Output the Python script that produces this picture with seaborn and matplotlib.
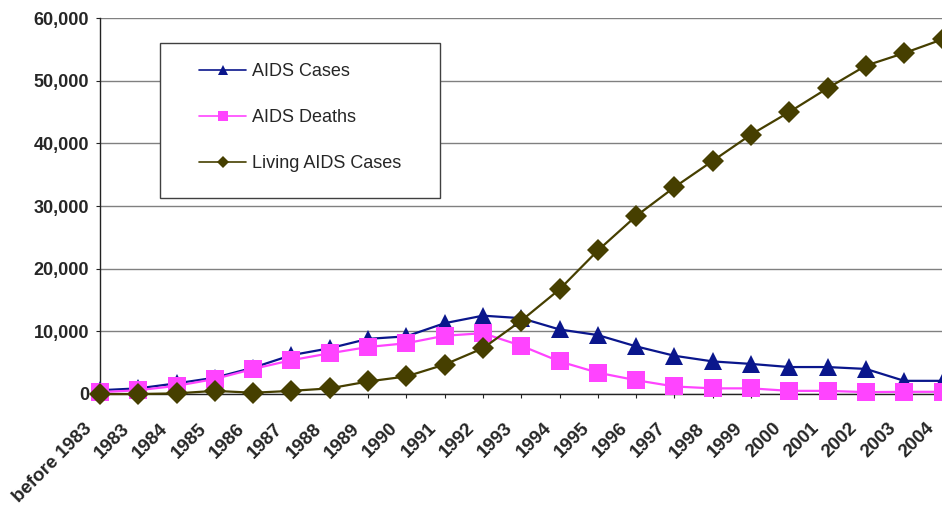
import numpy as np
import pandas as pd
import matplotlib
matplotlib.use("Agg")
import matplotlib.pyplot as plt
from matplotlib.patches import Rectangle
from matplotlib.transforms import ScaledTranslation
from matplotlib.ticker import FuncFormatter
import seaborn as sns

categories = ["before 1983", "1983", "1984", "1985", "1986", "1987", "1988", "1989",
              "1990", "1991", "1992", "1993", "1994", "1995", "1996", "1997", "1998",
              "1999", "2000", "2001", "2002", "2003", "2004"]
aids_cases = [600, 900, 1700, 2600, 4200, 6200, 7300, 8800, 9200, 11300, 12500, 12100,
              10300, 9400, 7600, 6100, 5200, 4800, 4300, 4300, 4000, 2100, 2100]
aids_deaths = [300, 600, 1300, 2400, 4000, 5400, 6500, 7500, 8100, 9300, 9700, 7700,
               5200, 3400, 2200, 1200, 900, 900, 500, 500, 300, 350, 350]
living_cases = [0, 0, 100, 500, 200, 500, 900, 2000, 2800, 4700, 7300, 11700,
                16700, 22900, 28400, 33000, 37200, 41400, 45000, 48800, 52400, 54400, 56600]
yticks = [0, 10000, 20000, 30000, 40000, 50000, 60000]

sns.set_theme(style="white")
plt.rcParams["font.family"] = ["Liberation Sans", "DejaVu Sans"]

W, H = 942, 515
fig = plt.figure(figsize=(W / 100, H / 100), dpi=100)
ax = fig.add_axes([100 / W, (H - 394) / H, 842.5 / W, 376 / H])

pos = np.arange(len(categories))
df = pd.DataFrame({"pos": pos, "cases": aids_cases, "deaths": aids_deaths, "living": living_cases})

series = [
    ("cases", "AIDS Cases", "#0a168c", "^", 13),
    ("deaths", "AIDS Deaths", "#ff44ff", "s", 12.5),
    ("living", "Living AIDS Cases", "#463f00", "D", 11),
]
for col, lab, colr, mk, ms in series:
    sns.lineplot(data=df, x="pos", y=col, ax=ax, color=colr, marker=mk, markersize=ms,
                 markeredgewidth=0, linewidth=1.6, label=lab, clip_on=False, zorder=3)

ax.set_xlim(0, len(categories) - 1)
ax.set_ylim(0, 60000)
ax.set_yticks(yticks)
ax.yaxis.set_major_formatter(FuncFormatter(lambda v, p: f"{int(v):,}"))
ax.set_xticks(pos)
ax.set_xticklabels(categories, rotation=45, ha="right", va="center", rotation_mode="anchor")
ax.set_xlabel("")
ax.set_ylabel("")

ax.grid(axis="y", color="#808080", linewidth=1.0)
ax.grid(axis="x", visible=False)
for s in ["top", "right"]:
    ax.spines[s].set_visible(False)
for s in ["left", "bottom"]:
    ax.spines[s].set_color("#222222")
    ax.spines[s].set_linewidth(1.0)

ax.tick_params(axis="y", which="major", left=True, length=3, width=0.8, color="#222222",
               pad=5, labelsize=13)
ax.tick_params(axis="x", which="major", bottom=True, length=3, width=0.8, color="#222222",
               pad=20, labelsize=13.5)
for t in ax.get_yticklabels():
    t.set_fontweight("bold")
off = ScaledTranslation(-0.11, 0, fig.dpi_scale_trans)
for t in ax.get_xticklabels():
    t.set_fontweight("bold")
    t.set_transform(t.get_transform() + off)

# legend box
box = Rectangle((160 / W, 1 - 198 / H), 280 / W, 155 / H, transform=fig.transFigure,
                facecolor="white", edgecolor="#404040", linewidth=1.0, zorder=4, clip_on=False)
ax.add_patch(box)
leg = ax.legend(loc="center", bbox_to_anchor=(300 / W, 1 - 117.5 / H),
                bbox_transform=fig.transFigure, frameon=False, fontsize=13,
                handlelength=2.6, handletextpad=0.3, labelspacing=1.6, borderpad=0.0)
leg.set_zorder(5)
for ln in leg.get_lines():
    ln.set_linewidth(1.2)
    ln.set_markersize(6.5)

fig.savefig("out.png", dpi=100)
